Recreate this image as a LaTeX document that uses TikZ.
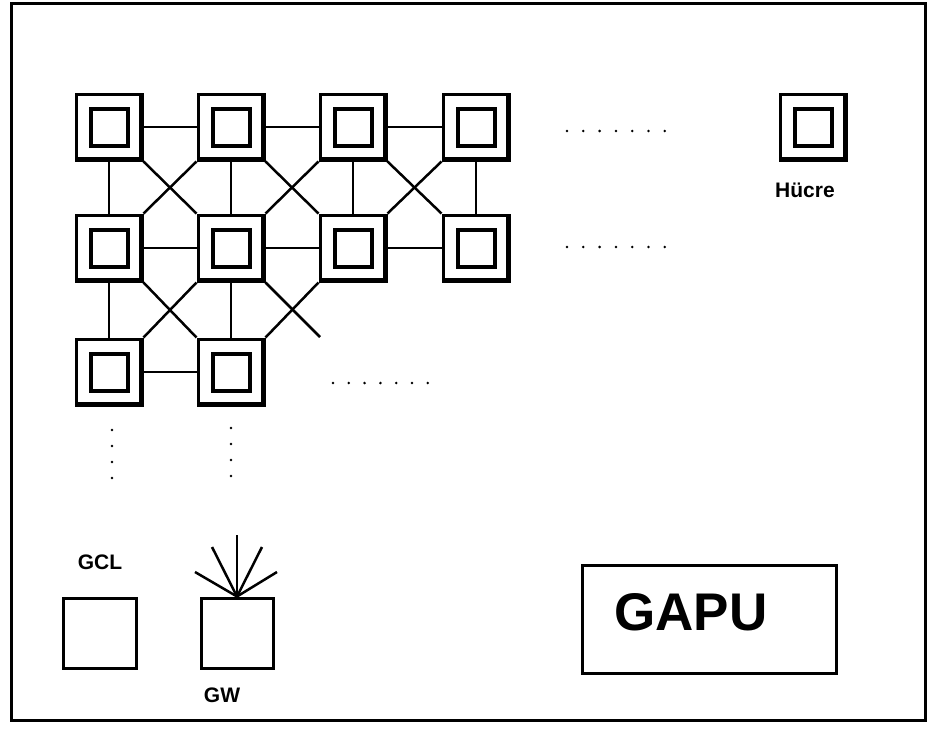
\documentclass[tikz,border=0pt]{standalone}
\usepackage{fontspec}
\setmainfont{Liberation Sans}
\begin{document}
\begin{tikzpicture}[x=1pt, y=-1pt,
    cell/.style={draw, line width=3pt, minimum size=66pt, inner sep=0pt,
      path picture={
        \fill ([yshift=3.5pt]path picture bounding box.south west) rectangle (path picture bounding box.south east);
        \fill ([xshift=-3.5pt]path picture bounding box.north east) rectangle (path picture bounding box.south east);
        \draw[line width=4pt] ([shift={(-18.5pt,-18.5pt)}]path picture bounding box.center) rectangle ([shift={(18.5pt,18.5pt)}]path picture bounding box.center);
        \draw[line width=2pt] ([shift={(-18.5pt,-20pt)}]path picture bounding box.center) -- ([shift={(20pt,-20pt)}]path picture bounding box.center) -- ([shift={(20pt,18.5pt)}]path picture bounding box.center);
      }},
    link/.style={line width=2.5pt},
    plain box/.style={draw, line width=3pt, inner sep=0pt},
    tag/.style={font=\fontsize{21}{21}\selectfont\bfseries}]
    \useasboundingbox (0,0) rectangle (927,731);
    \draw[line width=3pt] (11,3) rectangle (925,720);

    \node[cell] at (109,127) (c11) {};
    \node[cell] at (231,127) (c12) {};
    \node[cell] at (353,127) (c13) {};
    \node[cell] at (476,127) (c14) {};
    \node[cell] at (109,248) (c21) {};
    \node[cell] at (231,248) (c22) {};
    \node[cell] at (353,248) (c23) {};
    \node[cell] at (476,248) (c24) {};
    \node[cell] at (109,372) (c31) {};
    \node[cell] at (231,372) (c32) {};
    \node[cell] at (813,127) (c0) {};
    \node[tag] at (805,190) (hucre) {Hücre};

    % straight links
    \path[link] (c11) edge (c12);
    \path[link] (c12) edge (c13);
    \path[link] (c13) edge (c14);
    \path[link] (c21) edge (c22);
    \path[link] (c22) edge (c23);
    \path[link] (c23) edge (c24);
    \path[link] (c31) edge (c32);
    \path[link] (c11) edge (c21);
    \path[link] (c12) edge (c22);
    \path[link] (c13) edge (c23);
    \path[link] (c14) edge (c24);
    \path[link] (c21) edge (c31);
    \path[link] (c22) edge (c32);

    % diagonal links
    \coordinate (open) at (320,337);
    \path[link] (c11.south east) edge (c22.north west);
    \path[link] (c21.north east) edge (c12.south west);
    \path[link] (c12.south east) edge (c23.north west);
    \path[link] (c22.north east) edge (c13.south west);
    \path[link] (c13.south east) edge (c24.north west);
    \path[link] (c23.north east) edge (c14.south west);
    \path[link] (c21.south east) edge (c32.north west);
    \path[link] (c31.north east) edge (c22.south west);
    \path[link] (c32.north east) edge (c23.south west);
    \path[link] (c22.south east) edge (open);

    % dots
    \foreach \i in {0,...,6} {
      \fill (567+16.3*\i,131) circle (1.4pt);
      \fill (567+16.3*\i,247) circle (1.4pt);
      \fill (333+15.8*\i,383) circle (1.4pt);
    }
    \foreach \i in {0,...,3} {
      \fill (112,430+16*\i) circle (1.4pt);
      \fill (231,428+16*\i) circle (1.4pt);
    }

    \node[plain box, minimum width=73pt, minimum height=70pt] at (100,633) (gcl) {};
    \node[tag] at (100,562) (gcllabel) {GCL};
    \node[plain box, minimum width=72pt, minimum height=70pt] at (237,633) (gw) {};
    \node[tag] at (222,695) (gwlabel) {GW};
    \coordinate (a1) at (237,535);
    \coordinate (a2) at (212,547);
    \coordinate (a3) at (262,547);
    \coordinate (a4) at (195,572);
    \coordinate (a5) at (277,572);
    \path[link] (gw.north) edge (a1) edge (a2) edge (a3) edge (a4) edge (a5);

    \node[plain box, minimum width=254pt, minimum height=108pt] at (709,619) (gapu) {};
    \node[font=\fontsize{53}{53}\selectfont\bfseries] at (691,612) (gaputext) {GAPU};
\end{tikzpicture}
\end{document}
